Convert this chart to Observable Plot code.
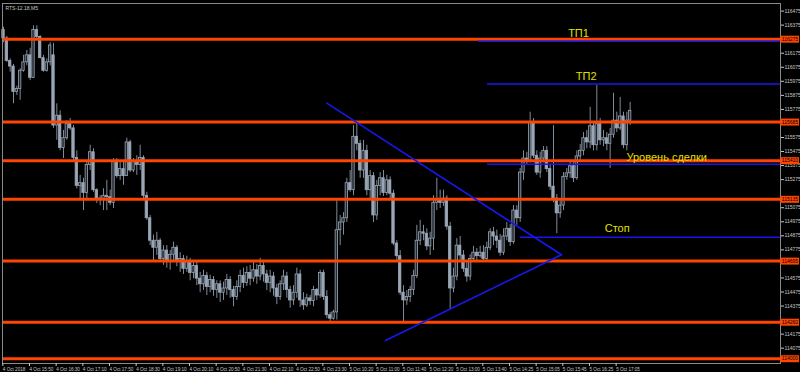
<!DOCTYPE html>
<html><head><meta charset="utf-8">
<script src="https://cdn.jsdelivr.net/npm/d3@7"></script>
<script src="https://cdn.jsdelivr.net/npm/@observablehq/plot@0.6"></script>
<style>
html,body{margin:0;padding:0;background:#000;overflow:hidden}
svg{display:block;background:#000}
</style></head><body><div id="chart"></div>
<script>
const symbol = "RTS-12.18,M5";
const open = [116340,116280,116120,116080,115900,115920,116050,116110,116160,116000,116340,116290,116140,116050,116110,116160,115660,115730,115500,115570,115670,115640,115430,115230,115250,115180,115380,115470,115200,115140,115130,115160,115150,115110,115400,115300,115350,115300,115540,115340,115400,115380,115430,115160,115000,114840,114790,114840,114710,114770,114690,114740,114790,114690,114710,114640,114690,114610,114660,114570,114530,114590,114510,114560,114490,114530,114470,114500,114560,114490,114440,114510,114590,114540,114610,114570,114630,114585,114660,114600,114540,114585,114500,114440,114530,114585,114490,114415,114470,114600,114415,114380,114430,114410,114490,114450,114610,114440,114310,114285,114330,114915,114970,115000,115250,115200,115580,115530,115340,115480,115200,115300,115020,115230,115285,115180,115270,115175,114820,114730,114470,114415,114440,114490,114590,114840,114900,114890,114800,114855,115110,115130,115110,115140,114940,114500,114585,114805,114735,114640,114585,114710,114755,114730,114755,114710,114790,114900,114870,114840,114755,114870,114925,114830,115055,115000,115325,115425,115410,115680,115445,115325,115425,115480,115350,115225,115140,115035,115090,115295,115320,115370,115285,115440,115480,115570,115540,115655,115520,115670,115555,115570,115530,115595,115695,115640,115725,115520,115695];
const high = [116360,116295,116135,116095,115940,116065,116160,116195,116210,116370,116370,116300,116160,116135,116250,116245,115815,115765,115625,115695,115710,115660,115480,115305,115285,115410,115520,115495,115210,115160,115210,115270,115200,115425,115425,115395,115410,115570,115555,115425,115445,115520,115445,115185,115020,114880,114900,114855,114805,114805,114770,114830,114805,114755,114735,114730,114715,114685,114685,114615,114630,114615,114595,114585,114555,114555,114545,114600,114585,114515,114555,114630,114645,114655,114665,114685,114670,114715,114700,114630,114630,114615,114530,114555,114630,114615,114515,114520,114645,114630,114470,114460,114450,114515,114500,114630,114630,114485,114330,114345,115125,115020,115040,115285,115340,115660,115675,115555,115555,115520,115340,115325,115270,115325,115340,115305,115295,115200,114840,114770,114520,114485,114515,114630,114950,114985,114950,114925,114900,115160,115285,115200,115200,115160,114970,114645,114855,114870,114770,114685,114740,114800,114785,114800,114805,114830,114925,114935,114915,114885,114925,114970,114955,115090,115090,115355,115480,115470,115755,115710,115480,115470,115510,115510,115385,115660,115170,115125,115325,115355,115410,115395,115480,115525,115610,115625,115790,115680,115945,115710,115625,115610,115640,115890,115755,115860,115755,115755,115825];
const low = [116250,116110,116040,115815,115875,115840,116040,116085,115980,115995,116265,116135,116040,116040,116085,115640,115555,115480,115425,115555,115625,115410,115210,115125,115055,115125,115340,115185,115105,115090,115055,115055,115090,115070,115285,115270,115235,115375,115325,115325,115305,115340,115140,114985,114805,114685,114735,114685,114665,114645,114630,114700,114655,114615,114600,114615,114555,114570,114520,114470,114485,114450,114470,114445,114430,114400,114415,114450,114430,114370,114415,114470,114500,114515,114520,114545,114530,114555,114545,114485,114470,114445,114385,114415,114485,114430,114360,114380,114430,114365,114345,114365,114380,114370,114415,114430,114415,114285,114260,114275,114275,114805,114880,114970,115185,115160,115480,115285,115285,115160,115140,114970,114985,115160,115155,115160,115140,114805,114700,114450,114260,114380,114400,114450,114570,114805,114840,114770,114735,114770,115055,115070,115085,114915,114345,114470,114555,114700,114615,114545,114555,114685,114685,114715,114685,114685,114770,114805,114785,114730,114735,114840,114800,114815,114950,114970,115270,115375,115395,115425,115305,115285,115395,115325,115200,115110,114890,115000,115055,115270,115285,115255,115270,115410,115445,115495,115495,115480,115480,115520,115510,115480,115355,115570,115610,115625,115495,115480,115660];
const close = [116280,116120,116080,115900,115920,116050,116110,116160,116000,116340,116290,116140,116050,116110,116230,115660,115730,115500,115570,115670,115640,115430,115230,115250,115180,115380,115470,115200,115140,115130,115160,115150,115110,115400,115300,115350,115300,115540,115340,115400,115380,115430,115160,115000,114840,114790,114840,114710,114770,114690,114740,114790,114690,114710,114640,114690,114610,114660,114570,114530,114590,114510,114560,114490,114530,114470,114500,114560,114490,114440,114510,114590,114540,114610,114570,114630,114585,114660,114600,114540,114585,114500,114440,114530,114585,114490,114415,114470,114600,114415,114380,114430,114410,114490,114450,114610,114440,114310,114285,114330,114915,114970,115000,115250,115200,115580,115530,115340,115480,115200,115300,115020,115230,115285,115180,115270,115175,114820,114730,114470,114415,114440,114490,114590,114840,114900,114890,114800,114855,115110,115130,115110,115140,114940,114500,114585,114805,114735,114640,114585,114710,114755,114730,114755,114710,114790,114900,114870,114840,114755,114870,114925,114830,115055,115000,115325,115425,115410,115680,115445,115325,115425,115480,115350,115225,115140,115035,115090,115295,115320,115370,115285,115440,115480,115570,115540,115655,115520,115670,115555,115570,115530,115595,115695,115640,115725,115520,115695,115765];

// horizontal support / resistance levels (orange)
const levels = [116275, 115685, 115410, 115135, 114695, 114260, 114000];
// trade plan lines (blue) and their yellow labels
const planNames = ["ТП1", "ТП2", "Уровень сделки", "Стоп"];
const planPrices = [116260, 115955, 115385, 114865];
const planStartBar = [142.5, 145.2, 145.2, 155.1];
const planLabelBar = [172.5, 174.8, 186.9, 184.1];
const planLabelPrice = [116319, 116013, 115436, 114924];
const planLabelAnchor = ["middle", "middle", "start", "middle"];
// triangle trend lines
const triBars = [97.0, 167.4, 114.6, 167.4];
const triPrices = [115820, 114740, 114130, 114740];
const triLine = ["upper", "upper", "lower", "lower"];
// axes (price labels that sit under an orange level tag are not shown, as in the terminal)
const priceTicks = [116475,116375,116175,116075,115975,115875,115775,115575,115475,115375,115275,115075,114975,114875,114775,114575,114475,114375,114175,114075];
const timeTickBars = [0,8,16,24,32,40,48,56,64,72,80,88,96,104,112,120,128,136,144,152,160,168,176,184];
const timeLabels = ["4 Oct 2018","4 Oct 15:50","4 Oct 16:30","4 Oct 17:10","4 Oct 17:50","4 Oct 18:30","4 Oct 19:10","4 Oct 20:10","4 Oct 20:50","4 Oct 21:30","4 Oct 22:10","4 Oct 22:50","4 Oct 23:30","5 Oct 10:20","5 Oct 11:00","5 Oct 11:40","5 Oct 12:20","5 Oct 13:00","5 Oct 13:40","5 Oct 14:25","5 Oct 15:05","5 Oct 15:45","5 Oct 16:25","5 Oct 17:05"];

const bars = close.map((c, i) => ({i, open: open[i], high: high[i], low: low[i], close: c}));
const plan = planNames.map((n, k) => ({name: n, price: planPrices[k], start: planStartBar[k], lx: planLabelBar[k], ly: planLabelPrice[k], anchor: planLabelAnchor[k]}));
const tri = triBars.map((b, k) => ({bar: b, price: triPrices[k], line: triLine[k]}));

const X0 = -0.3, X1 = 233.1;
const font = "Liberation Sans, DejaVu Sans, sans-serif";

const chart = Plot.plot({
  width: 800, height: 372,
  marginLeft: 2, marginRight: 20, marginTop: 3, marginBottom: 9,
  style: {background: "#000", fontFamily: font},
  x: {domain: [X0, X1], axis: null},
  y: {domain: [113966, 116529], axis: null},
  marks: [
    Plot.ruleX(bars, {x: "i", y1: "low", y2: "high", stroke: "#7f8b98", strokeWidth: 1}),
    Plot.rect(bars, {x1: d => d.i - 0.36, x2: d => d.i + 0.36, y1: "open", y2: "close",
      fill: d => d.close >= d.open ? "#20262d" : "#9aa7b6",
      stroke: "#9aa7b6", strokeWidth: 0.8}),
    Plot.ruleY(levels, {stroke: "#ff4500", strokeWidth: 3}),
    Plot.ruleY(plan, {y: "price", x1: "start", x2: X1, stroke: "#1717f0", strokeWidth: 1.5}),
    Plot.line(tri, {x: "bar", y: "price", z: "line", stroke: "#1717f0", strokeWidth: 1.6}),
    Plot.text(plan.filter(d => d.anchor === "middle"), {x: "lx", y: "ly", text: "name", textAnchor: "middle", fill: "#e0e000", fontSize: 11}),
    Plot.text(plan.filter(d => d.anchor === "start"), {x: "lx", y: "ly", text: "name", textAnchor: "start", fill: "#e0e000", fontSize: 11}),
    Plot.frame({stroke: "#8a8a8a", strokeWidth: 1}),
    Plot.axisY(priceTicks, {anchor: "right", tickSize: 3, tickPadding: 1, fontSize: 5, color: "#c8c8c8", tickFormat: d => String(d)}),
    Plot.ruleY(levels, {x1: X1 + 0.05, x2: X1 + 5.7, stroke: "#ff4500", strokeWidth: 7}),
    Plot.text(levels, {y: d => d, x: X1 + 0.4, text: d => String(d), textAnchor: "start", fill: "#000", fontSize: 5}),
    Plot.axisX(timeTickBars.map(b => b - 0.5), {anchor: "bottom", tickSize: 3, tickPadding: 1, fontSize: 4.6, color: "#c8c8c8", textAnchor: "start", dx: 1, tickFormat: (d, k) => timeLabels[k]}),
    Plot.text([symbol], {frameAnchor: "top-left", dx: 3, dy: 3, text: d => d, fill: "#c8c8c8", fontSize: 5})
  ]
});
document.getElementById("chart").appendChild(chart);
</script></body></html>
